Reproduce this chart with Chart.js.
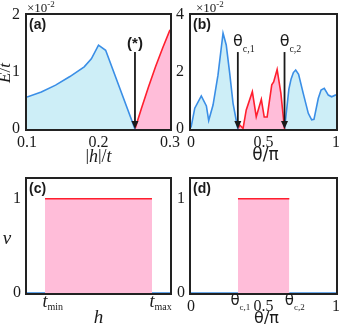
<!DOCTYPE html>
<html>
<head>
<meta charset="utf-8">
<script src="https://cdn.jsdelivr.net/npm/chart.js@4.4.1/dist/chart.umd.min.js"></script>
<style>
  html, body { margin: 0; padding: 0; background: #fff; }
  #wrap { position: relative; width: 339px; height: 328px; overflow: hidden; }
  #wrap canvas { position: absolute; }
</style>
</head>
<body>
<div id="wrap">
  <canvas id="chartA" width="190" height="164" style="left:0;top:0"></canvas>
  <canvas id="chartC" width="190" height="168" style="left:0;top:160px"></canvas>
  <canvas id="chartB" width="169" height="164" style="left:170px;top:0"></canvas>
  <canvas id="chartD" width="169" height="168" style="left:170px;top:160px"></canvas>
</div>
<script>
// (a) E/t (x10^-2) vs |h|/t
const aBlueH = [0.1, 0.12, 0.14, 0.16, 0.18, 0.19, 0.2, 0.21, 0.251];
const aBlueE = [0.56, 0.65, 0.77, 0.92, 1.09, 1.23, 1.47, 1.38, 0];
const aRedH = [0.251, 0.26, 0.27, 0.28, 0.29, 0.3];
const aRedE = [0, 0.36, 0.74, 1.1, 1.43, 1.74];
const aArrowH = 0.251;
const aArrowTop = 1.35;
const aTicksX = [0.1, 0.2, 0.3];
const aTicksY = [0, 1, 2];

// (b) E/t (x10^-2) vs theta/pi
const bBlue1T = [0, 0.026, 0.071, 0.106, 0.122, 0.152, 0.186, 0.221, 0.243, 0.267, 0.29, 0.323];
const bBlue1E = [0.05, 0.73, 1.16, 0.81, 0.3, 0.84, 1.89, 3.36, 2.95, 1.95, 0.9, 0];
const bRedT = [0.323, 0.337, 0.359, 0.381, 0.423, 0.45, 0.485, 0.505, 0.525, 0.557, 0.57, 0.594, 0.62, 0.645];
const bRedE = [0, 0.14, 0.02, 0.67, 1.31, 0.43, 1.04, 0.42, 0.42, 1.55, 1.65, 2.09, 1.25, 0];
const bBlue2T = [0.645, 0.675, 0.69, 0.706, 0.722, 0.742, 0.774, 0.809, 0.832, 0.848, 0.878, 0.897, 0.919, 0.947, 0.97, 1.0];
const bBlue2E = [0, 1.4, 1.75, 1.98, 2.07, 1.92, 1.25, 0.55, 0.32, 0.34, 1.08, 1.37, 1.43, 1.19, 1.13, 1.2];
const bThetaC = [0.323, 0.645];
const bArrowTop = 2.7;
const bTicksX = [0, 0.5, 1];
const bTicksY = [0, 2, 4];

// (c) nu vs h
const cTMin = 0.126;
const cTMax = 0.874;
const cNu = 1;
const cTicksY = [0, 1];

// (d) nu vs theta/pi
const dThetaC = [0.324, 0.678];
const dNu = 1;
const dTicksX = [0, 0.324, 0.5, 0.678, 1];
const dTicksY = [0, 1];

const blueLine = '#3a8ee6';
const blueFill = '#cdeef7';
const redLine = '#ff1f2e';
const pinkFill = '#ffbdd9';
const ink = '#1a1a1a';
const SERIF = '"Liberation Serif", "Times New Roman", serif';
const SANS = '"Liberation Sans", Arial, sans-serif';
const GREEK = '"DejaVu Sans", sans-serif';

function points(xs, ys) {
  return xs.map((x, i) => ({ x, y: ys[i] }));
}

function lineSet(xs, ys, line, fill) {
  return {
    data: points(xs, ys),
    borderColor: line,
    backgroundColor: fill || 'transparent',
    borderWidth: 1.6,
    fill: fill ? 'origin' : false,
    pointRadius: 0,
    tension: 0
  };
}

function drawRich(ctx, parts, x, y, align) {
  let w = 0;
  parts.forEach(p => { ctx.font = p[1]; w += ctx.measureText(p[0]).width; });
  let cx = align === 'center' ? x - w / 2 : (align === 'right' ? x - w : x);
  ctx.textAlign = 'left';
  ctx.textBaseline = 'middle';
  ctx.fillStyle = ink;
  parts.forEach(p => {
    ctx.font = p[1];
    ctx.fillText(p[0], cx, y + (p[2] || 0));
    cx += ctx.measureText(p[0]).width;
  });
}

function drawArrow(chart, xVal, topVal) {
  const { ctx, scales } = chart;
  const x = scales.x.getPixelForValue(xVal);
  const y0 = scales.y.getPixelForValue(topVal);
  const y1 = scales.y.getPixelForValue(0);
  ctx.save();
  ctx.strokeStyle = ink;
  ctx.fillStyle = ink;
  ctx.lineWidth = 1.8;
  ctx.beginPath();
  ctx.moveTo(x, y0);
  ctx.lineTo(x, y1 - 6);
  ctx.stroke();
  ctx.beginPath();
  ctx.moveTo(x, y1);
  ctx.lineTo(x - 3.5, y1 - 8);
  ctx.lineTo(x + 3.5, y1 - 8);
  ctx.closePath();
  ctx.fill();
  ctx.restore();
}

function drawExponent(ctx, x, y) {
  drawRich(ctx, [['\u00d710', '13px ' + SERIF], ['-2', '9px ' + SERIF, -4]], x, y, 'left');
}

function thetaSub(ctx, x, y, sub, size) {
  const px = size || 16;
  ctx.font = px + 'px ' + GREEK;
  const w = ctx.measureText('\u03b8').width;
  drawRich(ctx, [['\u03b8', px + 'px ' + GREEK], [sub, (px - 6) + 'px ' + SERIF, 7]], x - w / 2, y, 'left');
}

const framePlugin = {
  id: 'frame',
  afterDatasetsDraw(chart) {
    const { ctx, chartArea: a } = chart;
    ctx.save();
    ctx.strokeStyle = '#222';
    ctx.lineWidth = 2;
    ctx.strokeRect(a.left - 1, a.top - 1, a.right - a.left + 2, a.bottom - a.top + 2);
    ctx.restore();
  }
};

function makeOptions(cfg) {
  const tickFont = { family: SERIF, size: 16 };
  return {
    responsive: false,
    animation: false,
    devicePixelRatio: 1,
    layout: { padding: { left: 0, top: cfg.top, right: cfg.right, bottom: 0 } },
    plugins: { legend: { display: false }, tooltip: { enabled: false } },
    scales: {
      x: {
        type: 'linear',
        min: cfg.xMin,
        max: cfg.xMax,
        grid: { display: false, drawTicks: false },
        border: { display: false },
        ticks: {
          font: tickFont,
          color: ink,
          padding: 4,
          maxRotation: 0,
          autoSkip: false,
          callback: cfg.xLabel || (v => String(v))
        },
        afterBuildTicks: s => { s.ticks = cfg.xTicks.map(v => ({ value: v })); },
        afterFit: s => { s.height = cfg.xHeight; s.paddingLeft = 0; s.paddingRight = 0; }
      },
      y: {
        type: 'linear',
        min: cfg.yMin,
        max: cfg.yMax,
        grid: { display: false, drawTicks: false },
        border: { display: false },
        ticks: { font: tickFont, color: ink, padding: cfg.yPad, callback: v => String(v) },
        afterBuildTicks: s => { s.ticks = cfg.yTicks.map(v => ({ value: v })); },
        afterFit: s => { s.width = cfg.yWidth; s.paddingTop = 0; s.paddingBottom = 0; }
      }
    }
  };
}

// panel (a)
new Chart(document.getElementById('chartA'), {
  type: 'line',
  data: {
    datasets: [
      lineSet(aBlueH, aBlueE, blueLine, blueFill),
      lineSet(aRedH, aRedE, redLine, pinkFill)
    ]
  },
  options: makeOptions({
    xMin: 0.1, xMax: 0.3, yMin: 0, yMax: 2, xTicks: aTicksX, yTicks: aTicksY,
    top: 15, right: 20, xHeight: 35, yWidth: 27, yPad: 7
  }),
  plugins: [framePlugin, {
    id: 'annA',
    afterDraw(chart) {
      const { ctx, chartArea: a, scales } = chart;
      ctx.save();
      drawExponent(ctx, a.left, 9);
      drawRich(ctx, [['(a)', 'bold 14px ' + SANS]], a.left + 2, 25, 'left');
      drawRich(ctx, [['(*)', 'bold 15px ' + SANS]], scales.x.getPixelForValue(aArrowH), 44, 'center');
      drawArrow(chart, aArrowH, aArrowTop);
      drawRich(ctx, [['|', '18px ' + SERIF], ['h', 'italic 18px ' + SERIF], ['|/', '18px ' + SERIF], ['t', 'italic 18px ' + SERIF]],
        (a.left + a.right) / 2, 157, 'center');
      ctx.translate(6, (a.top + a.bottom) / 2 + 1);
      ctx.rotate(-Math.PI / 2);
      drawRich(ctx, [['E', 'italic 17px ' + SERIF], ['/', '17px ' + SERIF], ['t', 'italic 17px ' + SERIF]], 0, 0, 'center');
      ctx.restore();
    }
  }]
});

// panel (b)
new Chart(document.getElementById('chartB'), {
  type: 'line',
  data: {
    datasets: [
      lineSet(bBlue1T, bBlue1E, blueLine, blueFill),
      lineSet(bRedT, bRedE, redLine, pinkFill),
      lineSet(bBlue2T, bBlue2E, blueLine, blueFill)
    ]
  },
  options: makeOptions({
    xMin: 0, xMax: 1, yMin: 0, yMax: 4, xTicks: bTicksX, yTicks: bTicksY,
    top: 15, right: 3, xHeight: 35, yWidth: 21, yPad: 7
  }),
  plugins: [framePlugin, {
    id: 'annB',
    afterDraw(chart) {
      const { ctx, chartArea: a, scales } = chart;
      ctx.save();
      drawExponent(ctx, a.left + 5, 9);
      drawRich(ctx, [['(b)', 'bold 14px ' + SANS]], a.left + 2, 25, 'left');
      thetaSub(ctx, scales.x.getPixelForValue(bThetaC[0]), 42, 'c,1');
      thetaSub(ctx, scales.x.getPixelForValue(bThetaC[1]), 42, 'c,2');
      drawArrow(chart, bThetaC[0], bArrowTop);
      drawArrow(chart, bThetaC[1], bArrowTop);
      drawRich(ctx, [['\u03b8/\u03c0', '17px ' + GREEK]], (a.left + a.right) / 2 + 2, 156, 'center');
      ctx.restore();
    }
  }]
});

// panel (c)
new Chart(document.getElementById('chartC'), {
  type: 'line',
  data: {
    datasets: [
      lineSet([0, cTMin], [0, 0], blueLine),
      lineSet([cTMax, 1], [0, 0], blueLine),
      lineSet([cTMin, cTMax], [cNu, cNu], redLine, pinkFill)
    ]
  },
  options: makeOptions({
    xMin: 0, xMax: 1, yMin: 0, yMax: 1.21, xTicks: [cTMin, cTMax], yTicks: cTicksY,
    top: 19, right: 20, xHeight: 35, yWidth: 27, yPad: 6, xLabel: () => ''
  }),
  plugins: [framePlugin, {
    id: 'annC',
    afterDraw(chart) {
      const { ctx, chartArea: a, scales } = chart;
      ctx.save();
      drawRich(ctx, [['(c)', 'bold 14px ' + SANS]], a.left + 2, 29, 'left');
      [[cTMin, 'min'], [cTMax, 'max']].forEach(([v, sub]) => {
        ctx.font = 'italic 18px ' + SERIF;
        const w = ctx.measureText('t').width;
        drawRich(ctx, [['t', 'italic 18px ' + SERIF], [sub, '10px ' + SERIF, 5]],
          scales.x.getPixelForValue(v) - w / 2, 142, 'left');
      });
      drawRich(ctx, [['h', 'italic 19px ' + SERIF]], (a.left + a.right) / 2, 158, 'center');
      drawRich(ctx, [['\u03bd', 'italic 19px ' + SERIF]], 7, 79, 'center');
      ctx.restore();
    }
  }]
});

// panel (d)
new Chart(document.getElementById('chartD'), {
  type: 'line',
  data: {
    datasets: [
      lineSet([0, dThetaC[0]], [0, 0], blueLine),
      lineSet([dThetaC[1], 1], [0, 0], blueLine),
      lineSet(dThetaC, [dNu, dNu], redLine, pinkFill)
    ]
  },
  options: makeOptions({
    xMin: 0, xMax: 1, yMin: 0, yMax: 1.21, xTicks: dTicksX, yTicks: dTicksY,
    top: 19, right: 3, xHeight: 35, yWidth: 21, yPad: 6,
    xLabel: v => (dThetaC.includes(v) ? '' : String(v))
  }),
  plugins: [framePlugin, {
    id: 'annD',
    afterDraw(chart) {
      const { ctx, chartArea: a, scales } = chart;
      ctx.save();
      drawRich(ctx, [['(d)', 'bold 14px ' + SANS]], a.left + 2, 29, 'left');
      thetaSub(ctx, scales.x.getPixelForValue(dThetaC[0]) - 3, 141, 'c,1', 15);
      thetaSub(ctx, scales.x.getPixelForValue(dThetaC[1]), 141, 'c,2', 15);
      drawRich(ctx, [['\u03b8/\u03c0', '16px ' + GREEK]], (a.left + a.right) / 2 + 3, 159, 'center');
      ctx.restore();
    }
  }]
});
</script>
</body>
</html>
